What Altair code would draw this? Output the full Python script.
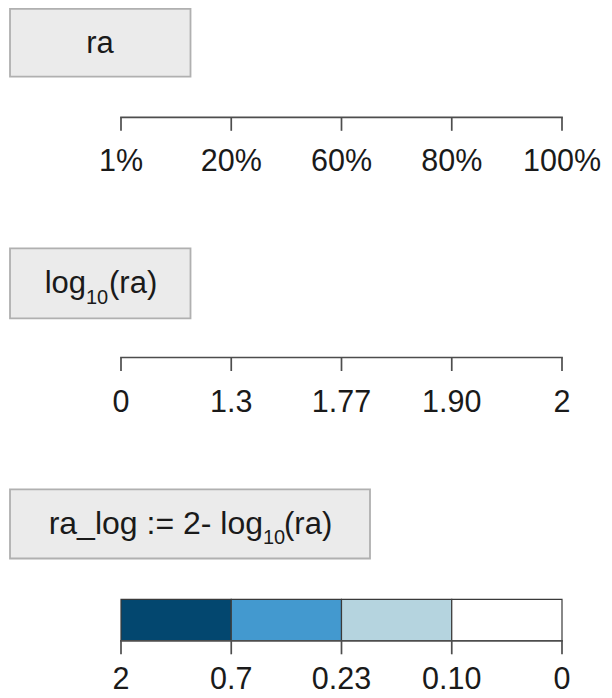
import altair as alt
import pandas as pd

# ---- data -------------------------------------------------------------
ra_labels = ["1%", "20%", "60%", "80%", "100%"]
log_labels = ["0", "1.3", "1.77", "1.90", "2"]
ralog_labels = ["2", "0.7", "0.23", "0.10", "0"]
bin_colors = ["#03476f", "#4399cf", "#b5d4df", "#ffffff"]

title1 = ["ra"]
title2 = ["log", "10", "(ra)"]
title3 = ["ra_log := 2- log", "10", "(ra)"]

# ---- styles -------------------------------------------------------------
FONT = "Liberation Sans"
TXT = "#1a1a1a"
AX = "#4d4d4d"
XS = alt.Scale(domain=[0, 4], nice=False, zero=False)


def xq(f):
    return alt.X(f + ":Q", scale=XS, axis=None)


def box(x1, x2, y1, y2):
    return alt.Chart(pd.DataFrame({"d": [0]})).mark_rect(
        fill="#ebebeb", stroke="#b0b0b0", strokeWidth=1.8
    ).encode(x=alt.value(x1), x2=alt.value(x2), y=alt.value(y1), y2=alt.value(y2))


def txt(s, x, y, size, align):
    return alt.Chart(pd.DataFrame({"t": [s]})).mark_text(
        align=align, baseline="alphabetic", fontSize=size, font=FONT, color=TXT
    ).encode(x=alt.value(x), y=alt.value(y), text="t:N")


def axis(labels, line_y, lab_off=54):
    df = pd.DataFrame({"pos": list(range(len(labels))), "lab": labels})
    base = alt.Chart(df)
    layers = [
        base.mark_rule(color=AX, strokeWidth=1.7, strokeCap="square").encode(
            x=alt.X("min(pos):Q", scale=XS, axis=None),
            x2="max(pos):Q",
            y=alt.value(line_y),
        ),
        base.mark_rule(color=AX, strokeWidth=1.7).encode(
            x=xq("pos"), y=alt.value(line_y), y2=alt.value(line_y + 13.5)
        ),
        base.mark_text(
            fontSize=30.5, baseline="alphabetic", font=FONT, color=TXT
        ).encode(x=xq("pos"), y=alt.value(line_y + lab_off), text="lab:N"),
    ]
    return layers


cb = pd.DataFrame(
    {"lo": list(range(4)), "hi": list(range(1, 5)), "c": bin_colors}
)
colorbar = alt.Chart(cb).mark_rect(stroke="#3a3a3a", strokeWidth=1.2).encode(
    x=xq("lo"),
    x2="hi:Q",
    y=alt.value(591.3),
    y2=alt.value(632.5),
    color=alt.Color("c:N", scale=None),
)

layers = []
# panel 1
layers.append(box(-111, 69.5, 0.9, 68.7))
layers.append(txt(title1[0], -21, 45, 31, "center"))
layers += axis(ra_labels, 109.3)
# panel 2
layers.append(box(-111, 69.5, 240.3, 310.3))
layers.append(txt(title2[0], -35, 285.3, 31, "right"))
layers.append(txt(title2[1], -35, 295.5, 20, "left"))
layers.append(txt(title2[2], -12, 285.3, 31, "left"))
layers += axis(log_labels, 349.5)
# panel 3
layers.append(box(-111, 249, 481.3, 550.5))
layers.append(txt(title3[0], 142, 525.5, 32, "right"))
layers.append(txt(title3[1], 142, 535.5, 20, "left"))
layers.append(txt(title3[2], 163, 525.5, 31, "left"))
layers.append(colorbar)
layers += axis(ralog_labels, 632.8, lab_off=48.5)

chart = (
    alt.layer(*layers)
    .properties(
        width=441,
        height=689,
        autosize=alt.AutoSizeParams(type="none"),
        padding={"left": 113, "top": 0, "right": 42, "bottom": 0},
        background="white",
    )
    .configure_view(strokeWidth=0)
)

chart.save("out.html", embed_options={"renderer": "svg", "actions": False})
